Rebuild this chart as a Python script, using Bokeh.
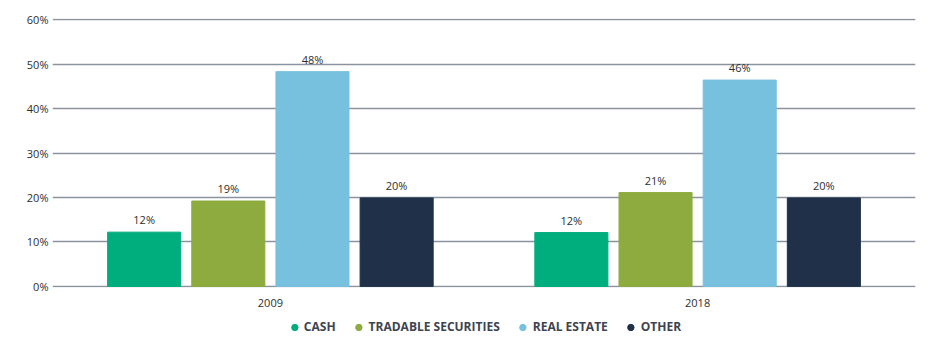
from bokeh.plotting import figure
from bokeh.layouts import column
from bokeh.models import (ColumnDataSource, FactorRange, Range1d, Legend, LegendItem,
                          PrintfTickFormatter, FixedTicker)
from bokeh.core.properties import value
from bokeh.transform import dodge
from bokeh.embed import file_html
from bokeh.resources import INLINE

years = ["2009", "2018"]
categories = ["CASH", "TRADABLE SECURITIES", "REAL ESTATE", "OTHER"]
cash = [12.2, 12.1]
tradable = [19.2, 21.1]
real_estate = [48.3, 46.4]
other = [19.9, 19.9]
colors = ["#00ad7d", "#8dab3e", "#78c1de", "#1f3048"]
y_ticks = [0, 10, 20, 30, 40, 50, 60]

series = [cash, tradable, real_estate, other]
FONT = "Open Sans"
TXT = "#2e2e2e"

p = figure(width=936, height=312,
           x_range=FactorRange(*years, range_padding=0.01),
           y_range=Range1d(-0.25, 60.25),
           output_backend="svg", toolbar_location=None,
           min_border_left=52, min_border_right=21, min_border_top=18, min_border_bottom=25)
p.outline_line_color = None

bar_w = 0.171
pitch = 0.197
offsets = [-1.5 * pitch, -0.5 * pitch, 0.5 * pitch, 1.5 * pitch]

for cat, vals, col, off in zip(categories, series, colors, offsets):
    src = ColumnDataSource(dict(year=years, val=vals, lbl=[f"{v:.0f}%" for v in vals]))
    p.vbar(x=dodge("year", off, range=p.x_range), top="val", bottom=0, width=bar_w,
           source=src, fill_color=col, line_color=col, line_width=1)
    p.text(x=dodge("year", off, range=p.x_range), y="val", text="lbl", source=src,
           text_align="center", text_baseline="bottom", y_offset=-5,
           text_font_size="11px", text_color=TXT, text_font=value(FONT))

p.xgrid.grid_line_color = None
p.ygrid.grid_line_color = "#8a949f"
p.ygrid.grid_line_width = 1.5
p.ygrid.ticker = FixedTicker(ticks=y_ticks)

p.yaxis.ticker = FixedTicker(ticks=y_ticks)
p.yaxis.formatter = PrintfTickFormatter(format="%d%%")
p.yaxis.axis_line_color = None
p.yaxis.major_tick_line_color = None
p.yaxis.minor_tick_line_color = None
p.yaxis.major_tick_out = 0
p.yaxis.minor_tick_out = 0
p.yaxis.major_label_standoff = 4
p.yaxis.major_label_text_font = FONT
p.yaxis.major_label_text_font_size = "11px"
p.yaxis.major_label_text_color = TXT

p.xaxis.axis_line_color = None
p.xaxis.major_tick_line_color = None
p.xaxis.minor_tick_line_color = None
p.xaxis.major_label_standoff = 5
p.xaxis.major_label_text_font = FONT
p.xaxis.major_label_text_font_size = "11px"
p.xaxis.major_label_text_color = TXT

# legend strip
lg = figure(width=936, height=35, output_backend="svg", toolbar_location=None,
            min_border_left=52, min_border_right=21, min_border_top=0, min_border_bottom=0,
            x_range=Range1d(0, 1), y_range=Range1d(0, 1))
lg.axis.visible = False
lg.grid.visible = False
lg.outline_line_color = None

legend_items = []
for cat, col in zip(categories, colors):
    r = lg.scatter(x=[0.5], y=[0.5], marker="circle", fill_color=col, line_color=col,
                   visible=False)
    legend_items.append(LegendItem(label=cat, renderers=[r]))

legend = Legend(items=legend_items, orientation="horizontal", location="top",
                glyph_width=16, glyph_height=16, label_standoff=2, spacing=15,
                padding=0, margin=6, border_line_color=None, background_fill_alpha=0,
                label_text_font=FONT, label_text_font_size="12px",
                label_text_font_style="bold", label_text_color="#3d4350",
                inactive_fill_alpha=0, label_height=16)
lg.add_layout(legend, "center")

layout = column(p, lg, spacing=0)
open("out.html", "w").write(file_html(layout, INLINE))
